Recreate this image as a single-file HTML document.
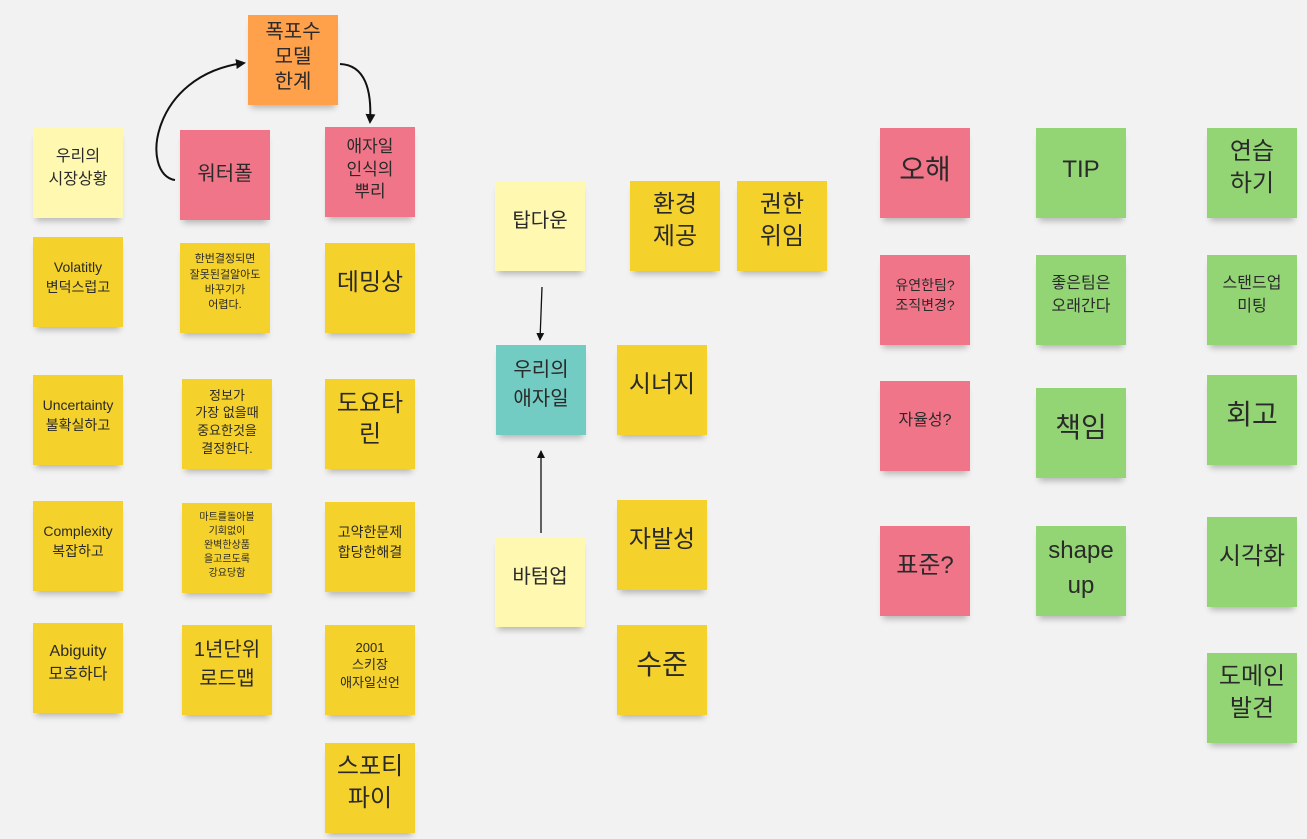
<!DOCTYPE html>
<html><head><meta charset="utf-8"><style>
html,body{margin:0;padding:0}
body{width:1307px;height:839px;background:#f2f2f2;position:relative;overflow:hidden;font-family:"Liberation Sans","Noto Sans CJK KR",sans-serif;color:#2a2a2a}
.s{position:absolute;width:90px;height:90px;display:flex;align-items:center;justify-content:center;text-align:center;box-sizing:border-box;padding-bottom:10px;line-height:1.45;box-shadow:0 6px 6px -3px rgba(0,0,0,0.25)}
.y{background:#f5d12c}.p{background:#f17589}.g{background:#93d474}.t{background:#72ccc3}.o{background:#ffa04b}.l{background:#fff8b0}
.xl{font-size:28px}.lg{font-size:24px}.md{font-size:20px}.sm{font-size:14px}.xs{font-size:11px;line-height:1.4}.ms{font-size:16px}
</style></head><body>
<svg width="1307" height="839" style="position:absolute;left:0;top:0">
<defs><marker id="a" markerWidth="10" markerHeight="10" refX="8" refY="5" orient="auto" markerUnits="userSpaceOnUse"><path d="M0,0 L10,5 L0,10 z" fill="#111"/></marker>
<marker id="b" markerWidth="8" markerHeight="8" refX="7" refY="4" orient="auto" markerUnits="userSpaceOnUse"><path d="M0,0 L8,4 L0,8 z" fill="#111"/></marker></defs>
<path d="M175,180 C140,175 150,75 244,63" stroke="#111" stroke-width="2" fill="none" marker-end="url(#a)"/>
<path d="M340,64 C365,65 372,90 370,122" stroke="#111" stroke-width="2" fill="none" marker-end="url(#a)"/>
<path d="M542,287 L540,340" stroke="#111" stroke-width="1.3" fill="none" marker-end="url(#b)"/>
<path d="M541,533 L541,451" stroke="#111" stroke-width="1.3" fill="none" marker-end="url(#b)"/>
</svg>

<div class="s o md" style="left:248px;top:15px;line-height:1.25;padding-bottom:6px">폭포수<br>모델<br>한계</div>
<div class="s l ms" style="left:33px;top:128px">우리의<br>시장상황</div>
<div class="s y sm" style="left:33px;top:237px">Volatitly<br>변덕스럽고</div>
<div class="s y sm" style="left:33px;top:375px">Uncertainty<br>불확실하고</div>
<div class="s y sm" style="left:33px;top:501px">Complexity<br>복잡하고</div>
<div class="s y ms" style="left:33px;top:623px">Abiguity<br>모호하다</div>

<div class="s p md" style="left:180px;top:130px;padding-bottom:2px">워터폴</div>
<div class="s y xs" style="left:180px;top:243px">한번결정되면<br>잘못된걸알아도<br>바꾸기가<br>어렵다.</div>
<div class="s y sm" style="left:182px;top:379px;font-size:13px;line-height:1.35;padding-bottom:4px">정보가<br>가장 없을때<br>중요한것을<br>결정한다.</div>
<div class="s y xs" style="left:182px;top:503px;font-size:10px;padding-bottom:4px">마트를돌아볼<br>기회없이<br>완벽한상품<br>을고르도록<br>강요당함</div>
<div class="s y md" style="left:182px;top:625px">1년단위<br>로드맵</div>

<div class="s p ms" style="left:325px;top:127px;font-size:17px;line-height:1.35;padding-bottom:4px">애자일<br>인식의<br>뿌리</div>
<div class="s y lg" style="left:325px;top:243px">데밍상</div>
<div class="s y lg" style="left:325px;top:379px;line-height:1.3">도요타<br>린</div>
<div class="s y sm" style="left:325px;top:502px">고약한문제<br>합당한해결</div>
<div class="s y sm" style="left:325px;top:625px;font-size:13px;line-height:1.35">2001<br>스키장<br>애자일선언</div>
<div class="s y lg" style="left:325px;top:743px;line-height:1.35">스포티<br>파이</div>

<div class="s l md" style="left:495px;top:181px">탑다운</div>
<div class="s t md" style="left:496px;top:345px">우리의<br>애자일</div>
<div class="s l md" style="left:495px;top:537px">바텀업</div>

<div class="s y lg" style="left:630px;top:181px;line-height:1.35">환경<br>제공</div>
<div class="s y lg" style="left:737px;top:181px;line-height:1.35">권한<br>위임</div>
<div class="s y lg" style="left:617px;top:345px">시너지</div>
<div class="s y lg" style="left:617px;top:500px">자발성</div>
<div class="s y xl" style="left:617px;top:625px">수준</div>

<div class="s p xl" style="left:880px;top:128px;padding-bottom:6px">오해</div>
<div class="s p sm" style="left:880px;top:255px">유연한팀?<br>조직변경?</div>
<div class="s p ms" style="left:880px;top:381px">자율성?</div>
<div class="s p lg" style="left:880px;top:526px">표준?</div>

<div class="s g lg" style="left:1036px;top:128px;padding-bottom:6px">TIP</div>
<div class="s g ms" style="left:1036px;top:255px">좋은팀은<br>오래간다</div>
<div class="s g xl" style="left:1036px;top:388px">책임</div>
<div class="s g lg" style="left:1036px;top:526px;padding-bottom:4px">shape<br>up</div>

<div class="s g lg" style="left:1207px;top:128px;line-height:1.35">연습<br>하기</div>
<div class="s g ms" style="left:1207px;top:255px">스탠드업<br>미팅</div>
<div class="s g xl" style="left:1207px;top:375px">회고</div>
<div class="s g lg" style="left:1207px;top:517px">시각화</div>
<div class="s g lg" style="left:1207px;top:653px;line-height:1.35">도메인<br>발견</div>
</body></html>
